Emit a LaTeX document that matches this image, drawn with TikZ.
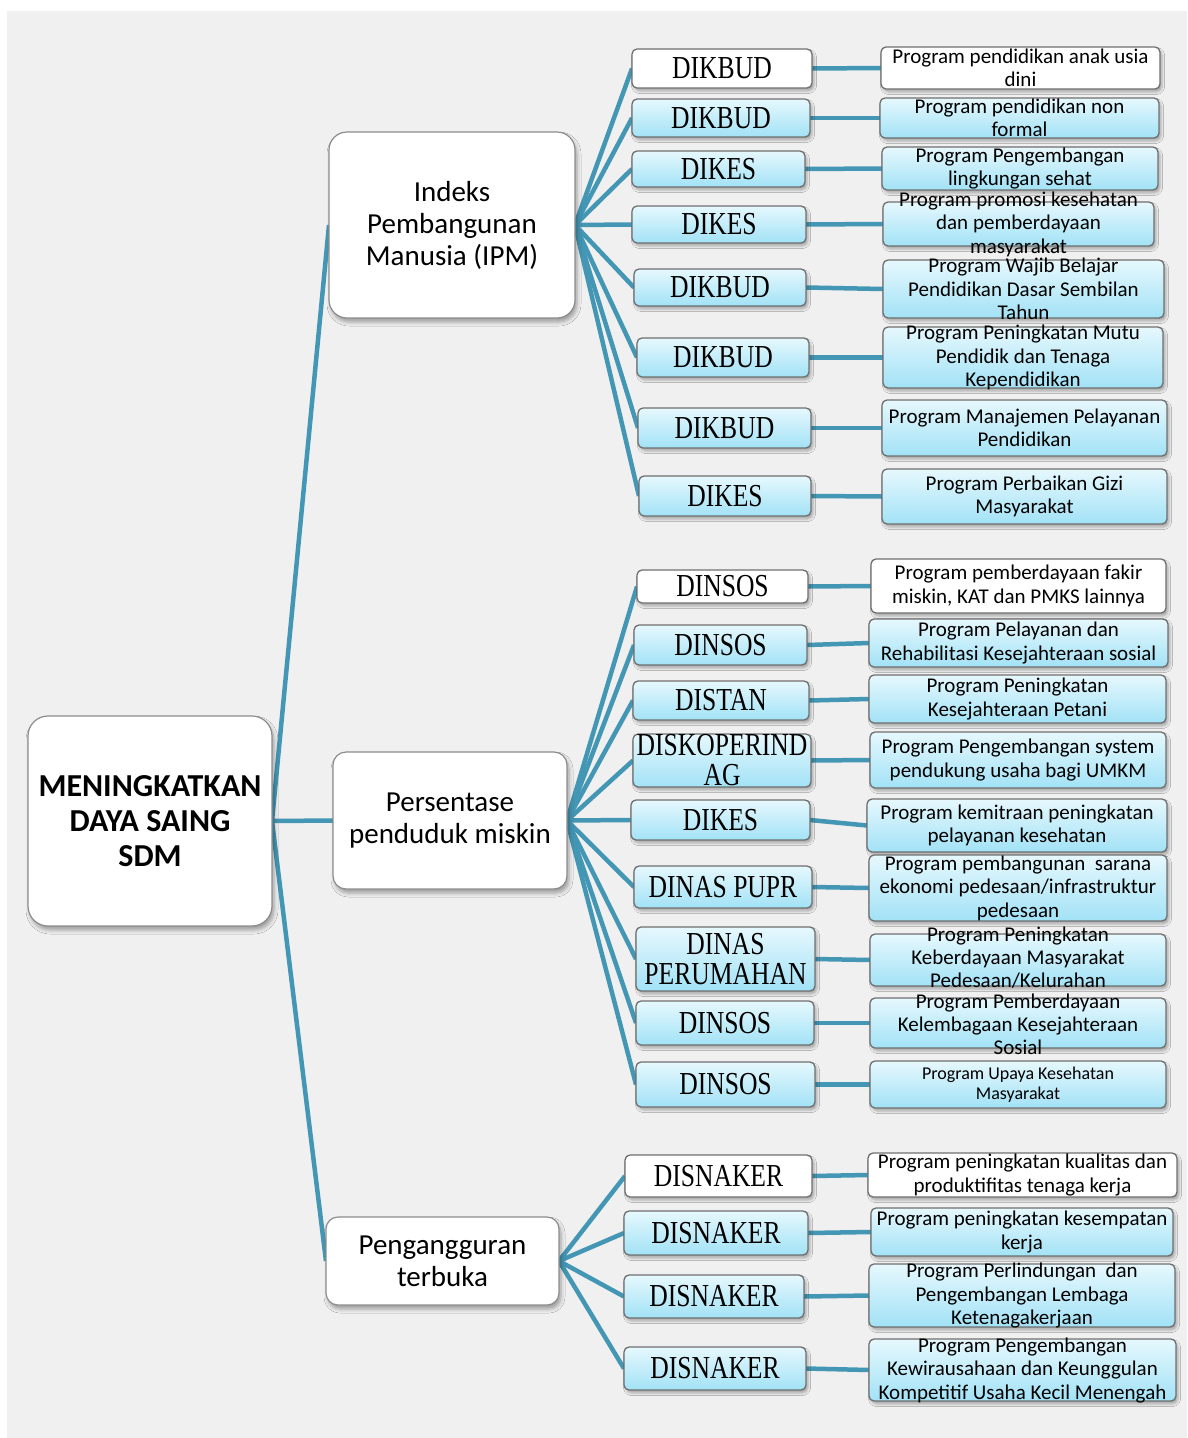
\documentclass[tikz,border=0pt]{standalone}
\usepackage{fontspec}
\setmainfont{Carlito}
\newfontfamily\dfont[FakeStretch=0.8]{Liberation Serif}
\usetikzlibrary{shadows.blur}
\definecolor{bgc}{HTML}{F0F0F0}
\definecolor{lnc}{HTML}{4497B4}
\definecolor{btop}{HTML}{E6F8FD}
\definecolor{bbot}{HTML}{A2E2F6}
\definecolor{bdr}{HTML}{6F6F6F}
\pgfdeclarelayer{back}
\pgfsetlayers{back,main}
\tikzset{
 base/.style={draw=bdr, line width=1.3pt, rounded corners=5pt, inner sep=0pt, outer sep=0pt,
   blur shadow={shadow xshift=2pt, shadow yshift=-3pt, shadow blur radius=2.5pt, shadow opacity=30}},
 wbox/.style={base, fill=white},
 bbox/.style={base, top color=btop, bottom color=bbot},
 bigbox/.style={draw=bdr!80, line width=1.2pt, fill=white, inner sep=0pt, outer sep=0pt,
   blur shadow={shadow xshift=2pt, shadow yshift=-4pt, shadow blur radius=4pt, shadow opacity=35}},
 dtext/.style={font=\dfont\fontsize{32}{30}\selectfont, align=center, inner sep=0pt},
 ptext/.style={font=\fontsize{21}{23.5}\selectfont, align=center, inner sep=0pt},
 mtext/.style={font=\fontsize{29}{32}\selectfont, align=center, inner sep=0pt},
 conn/.style={draw=lnc, line width=4.5pt},
}
\newcommand\dbox[7]{%
 \node[#2, minimum width={(#5-#3)*1pt}, minimum height={(#6-#4)*1pt}] (#1) at ({(#3+#5)/2},{(#4+#6)/2}) {};
 \node[dtext] (#1t) at (#1.center) {#7};}
\newcommand\pbox[7]{%
 \node[#2, minimum width={(#5-#3)*1pt}, minimum height={(#6-#4)*1pt}] (#1) at ({(#3+#5)/2},{(#4+#6)/2}) {};
 \node[ptext] (#1t) at (#1.center) {#7};}
\begin{document}
\begin{tikzpicture}[x=1pt, y=-1pt]
\useasboundingbox (0,0) rectangle (1187,1438);
% main boxes
\node[bigbox, rounded corners=20pt, minimum width=244pt, minimum height=210pt] (root) at (150,821) {};
\node[font=\bfseries\fontsize{32}{35}\selectfont, align=center, inner sep=0pt] (roott) at (root.center) {MENINGKATKAN\\DAYA SAING\\SDM};
\node[bigbox, rounded corners=18pt, minimum width=246pt, minimum height=186pt] (ipm) at (452,225) {};
\node[mtext] (ipmt) at (ipm.center) {Indeks\\Pembangunan\\Manusia (IPM)};
\node[bigbox, rounded corners=13pt, minimum width=234pt, minimum height=137pt] (pm) at (450,820.5) {};
\node[mtext] (pmt) at (pm.center) {Persentase\\penduduk miskin};
\node[bigbox, rounded corners=12pt, minimum width=233pt, minimum height=88pt] (pt) at (442.5,1261) {};
\node[mtext] (ptt) at (pt.center) {Pengangguran\\terbuka};
% group 1
\dbox{a1}{wbox}{632}{49}{812}{88}{DIKBUD}
\dbox{a2}{bbox}{632}{99}{810}{137}{DIKBUD}
\dbox{a3}{bbox}{632}{151}{805}{187}{DIKES}
\dbox{a4}{bbox}{632}{206}{806}{243}{DIKES}
\dbox{a5}{bbox}{634}{269}{806}{306}{DIKBUD}
\dbox{a6}{bbox}{637}{338}{809}{377}{DIKBUD}
\dbox{a7}{bbox}{638}{408}{811}{448}{DIKBUD}
\dbox{a8}{bbox}{639}{476}{811}{516}{DIKES}
\pbox{A1}{wbox}{881}{47}{1160}{89}{Program pendidikan anak usia\\dini}
\pbox{A2}{bbox}{880}{98}{1159}{138}{Program pendidikan non\\formal}
\pbox{A3}{bbox}{882}{147}{1158}{190}{Program Pengembangan\\lingkungan sehat}
\pbox{A4}{bbox}{883}{202}{1154}{246}{Program promosi kesehatan\\dan pemberdayaan\\masyarakat}
\pbox{A5}{bbox}{883}{260}{1164}{318}{Program Wajib Belajar\\Pendidikan Dasar Sembilan\\Tahun}
\pbox{A6}{bbox}{883}{327}{1163}{388}{Program Peningkatan Mutu\\Pendidik dan Tenaga\\Kependidikan}
\pbox{A7}{bbox}{882}{400}{1167}{456}{Program Manajemen Pelayanan\\Pendidikan}
\pbox{A8}{bbox}{882}{469}{1167}{524}{Program Perbaikan Gizi\\Masyarakat}
% group 2
\dbox{b1}{wbox}{637}{570}{808}{603}{DINSOS}
\dbox{b2}{bbox}{634}{625}{807}{665}{DINSOS}
\dbox{b3}{bbox}{633}{681}{809}{720}{DISTAN}
\dbox{b4}{bbox}{633}{734}{811}{787}{DISKOPERIND\\AG}
\dbox{b5}{bbox}{631}{800}{810}{840}{DIKES}
\dbox{b6}{bbox}{634}{866}{812}{908}{DINAS PUPR}
\dbox{b7}{bbox}{636}{927}{815}{991}{DINAS\\PERUMAHAN}
\dbox{b8}{bbox}{636}{1001}{814}{1045}{DINSOS}
\dbox{b9}{bbox}{636}{1062}{815}{1107}{DINSOS}
\pbox{B1}{wbox}{871}{559}{1166}{613}{Program pemberdayaan fakir\\miskin, KAT dan PMKS lainnya}
\pbox{B2}{bbox}{869}{619}{1168}{667}{Program Pelayanan dan\\Rehabilitasi Kesejahteraan sosial}
\pbox{B3}{bbox}{869}{675}{1166}{723}{Program Peningkatan\\Kesejahteraan Petani}
\pbox{B4}{bbox}{870}{732}{1166}{788}{Program Pengembangan system\\pendukung usaha bagi UMKM}
\pbox{B5}{bbox}{867}{799}{1167}{852}{Program kemitraan peningkatan\\pelayanan kesehatan}
\pbox{B6}{bbox}{869}{855}{1167}{921}{Program pembangunan\ \ sarana\\ekonomi pedesaan/infrastruktur\\pedesaan}
\node[bbox, minimum width=296pt, minimum height=52pt] (B7) at (1018,960) {};
\node[ptext, font=\fontsize{21}{23}\selectfont] (B7t) at ([yshift=2pt]B7.center) {Program Peningkatan\\Keberdayaan Masyarakat\\Pedesaan/Kelurahan};
\node[bbox, minimum width=296pt, minimum height=50pt] (B8) at (1018,1023) {};
\node[ptext, font=\fontsize{21}{23}\selectfont] (B8t) at ([yshift=-1pt]B8.center) {Program Pemberdayaan\\Kelembagaan Kesejahteraan\\Sosial};
\node[bbox, minimum width=296pt, minimum height=47pt] (B9) at (1018,1084.5) {};
\node[ptext, font=\fontsize{18}{20}\selectfont] (B9t) at (B9.center) {Program Upaya Kesehatan\\Masyarakat};
% group 3
\dbox{c1}{wbox}{625}{1155}{812}{1197}{DISNAKER}
\dbox{c2}{bbox}{624}{1211}{808}{1255}{DISNAKER}
\dbox{c3}{bbox}{624}{1275}{804}{1318}{DISNAKER}
\dbox{c4}{bbox}{624}{1347}{806}{1390}{DISNAKER}
\pbox{C1}{wbox}{868}{1153}{1177}{1197}{Program peningkatan kualitas dan\\produktifitas tenaga kerja}
\pbox{C2}{bbox}{871}{1208}{1173}{1256}{Program peningkatan kesempatan\\kerja}
\pbox{C3}{bbox}{869}{1264}{1175}{1327}{Program Perlindungan\ \ dan\\Pengembangan Lembaga\\Ketenagakerjaan}
\pbox{C4}{bbox}{869}{1339}{1176}{1401}{Program Pengembangan\\Kewirausahaan dan Keunggulan\\Kompetitif Usaha Kecil Menengah}
% connectors and background
\begin{pgfonlayer}{back}
\fill[bgc] (7,11) rectangle (1187,1438);
\draw[conn] (root.east) -- (ipm.west);
\draw[conn] (root.east) -- (pm.west);
\draw[conn] (root.east) -- (pt.west);
\foreach \i in {1,...,8} {\draw[conn] (ipm.east) -- (a\i.west); \draw[conn] (a\i.east) -- (A\i.west);}
\foreach \i in {1,...,9} {\draw[conn] (pm.east) -- (b\i.west); \draw[conn] (b\i.east) -- (B\i.west);}
\foreach \i in {1,...,4} {\draw[conn] (pt.east) -- (c\i.west); \draw[conn] (c\i.east) -- (C\i.west);}
\end{pgfonlayer}
\end{tikzpicture}
\end{document}
